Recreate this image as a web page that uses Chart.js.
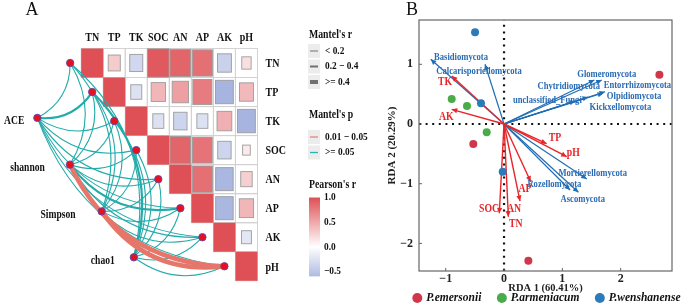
<!DOCTYPE html>
<html><head><meta charset="utf-8">
<script src="https://cdn.jsdelivr.net/npm/chart.js@4.4.1/dist/chart.umd.min.js"></script>
<style>
html,body{margin:0;padding:0;background:#fff;}
body{width:685px;height:307px;position:relative;overflow:hidden;}
canvas{position:absolute;top:0;}
#ca{left:0;} #cb{left:340px;}
</style></head><body>
<canvas id="ca" width="380" height="307"></canvas>
<canvas id="cb" width="345" height="307"></canvas>
<script>
// ================= Panel A data =================
const envVars = ['TN','TP','TK','SOC','AN','AP','AK','pH'];
// Pearson's r (upper triangle, row = variable)
const corrTN  = [1.00, 0.30,-0.35, 0.95, 0.88, 0.82,-0.40, 0.18];
const corrTP  = [null, 1.00,-0.25, 0.42, 0.55, 0.75,-0.65, 0.40];
const corrTK  = [null, null, 1.00,-0.25,-0.37,-0.25, 0.45,-0.65];
const corrSOC = [null, null, null, 1.00, 0.88, 0.80,-0.37, 0.12];
const corrAN  = [null, null, null, null, 1.00, 0.82,-0.63, 0.27];
const corrAP  = [null, null, null, null, null, 1.00,-0.63, 0.42];
const corrAK  = [null, null, null, null, null, null, 1.00,-0.20];
const corrPH  = [null, null, null, null, null, null, null, 1.00];
const pearson = [corrTN, corrTP, corrTK, corrSOC, corrAN, corrAP, corrAK, corrPH];

const diversity = ['ACE','shannon','Simpson','chao1'];
// Mantel's r of each diversity index vs envVars
const mantelR_ACE     = [0.12,0.28,0.10,0.09,0.11,0.14,0.08,0.15];
const mantelR_shannon = [0.10,0.15,0.12,0.10,0.13,0.26,0.10,0.46];
const mantelR_Simpson = [0.09,0.12,0.10,0.11,0.10,0.15,0.12,0.43];
const mantelR_chao1   = [0.14,0.30,0.10,0.12,0.10,0.14,0.10,0.13];
// Mantel's p
const mantelP_ACE     = [0.41,0.12,0.55,0.60,0.47,0.35,0.72,0.28];
const mantelP_shannon = [0.52,0.31,0.44,0.58,0.39,0.09,0.48,0.03];
const mantelP_Simpson = [0.57,0.40,0.51,0.49,0.55,0.27,0.36,0.02];
const mantelP_chao1   = [0.33,0.08,0.62,0.45,0.50,0.30,0.61,0.38];
const mantelR = [mantelR_ACE, mantelR_shannon, mantelR_Simpson, mantelR_chao1];
const mantelP = [mantelP_ACE, mantelP_shannon, mantelP_Simpson, mantelP_chao1];

const mantelRLabels = ['< 0.2', '0.2 \u2212 0.4', '>= 0.4'];
const mantelPLabels = ['0.01 \u2212 0.05', '>= 0.05'];
const pearsonTicks  = [1.0, 0.5, 0.0, -0.5];

// ================= Panel B data =================
const groupNames = ['P.emersonii', 'P.armeniacum', 'P.wenshanense'];
const emersoniiX   = [2.664, -0.527, 0.417];
const emersoniiY   = [0.826, -0.335, -2.290];
const armeniacumX  = [-0.897, -0.635, -0.297];
const armeniacumY  = [0.419, 0.300, -0.140];
const wenshanenseX = [-0.497, -0.395, -0.023];
const wenshanenseY = [1.536, 0.347, -0.800];

const envArrowNames = ['TK','AK','TP','pH','AP','AN','SOC','TN'];
const envArrowX = [-0.897, -0.897, 0.730, 1.075, 0.458, 0.274, -0.081, 0.074];
const envArrowY = [ 0.804,  0.246, -0.330, -0.548, -0.966, -1.290, -1.496, -1.553];

const fungiNames = ['Basidiomycota','Calcarisporiellomycota','Glomeromycota','Chytridiomycota',
  'Entorrhizomycota','Olpidiomycota','unclassified_Fungi','Kickxellomycota',
  'Mortierellomycota','Rozellomycota','Ascomycota'];
const fungiX = [-1.257, -0.326, 1.676, 1.549, 1.732, 1.700, 1.218, 1.440, 1.418, 1.132, 1.275];
const fungiY = [ 1.084,  1.000, 0.737, 0.737, 0.541, 0.519, 0.385, 0.452, -0.921, -1.106, -1.144];

const xTitleB = 'RDA 1 (60.41%)';
const yTitleB = 'RDA 2 (20.29%)';

// ================= layout & style (not data) =================
const SERIF = '"Liberation Serif", "Times New Roman", serif';
const LA = { cellW: 22.62, cellH: 30, gridX: 78.3, gridY: 45, W: 380, H: 307 };
const speciesPos = [[-1.99, 2.39], [-0.51, 4.0], [0.93, 5.61], [2.39, 7.19]];   // cell units
const speciesLabelOff = [[-13, 3.5], [-25, 3], [-26, 4], [-19, 3.5]];          // px
const groupColors = ['#d0374a', '#4aab4a', '#2b7bba'];
const B = { xMin: -1.458, xMax: 2.88, yMin: -2.462, yMax: 1.742 };
const envLabelPos = [[-1.012,0.709],[-0.99,0.122],[0.875,-0.229],[1.189,-0.474],[0.36,-1.089],[0.172,-1.424],[-0.257,-1.424],[0.2,-1.663]];
const fungiLabelPos = [[-0.738,1.117],[-0.429,0.883],[1.761,0.826],[1.109,0.625],[2.287,0.648],[2.23,0.457],[0.743,0.39],[1.995,0.28],[1.52,-0.826],[0.863,-1.01],[1.35,-1.256]];
const RED_ARROW = '#e8262a', BLUE_ARROW = '#1f6db3', BLUE_TEXT = '#2a6cb4';

function txt(ctx, s, x, y, font, color, align, sx) {
  ctx.save();
  ctx.translate(x, y);
  ctx.scale(sx || 1, 1);
  ctx.font = font; ctx.fillStyle = color;
  ctx.textAlign = align || 'left'; ctx.textBaseline = 'middle';
  ctx.fillText(s, 0, 0);
  ctx.restore();
}
function corrColor(r) {
  const t = Math.min(1, Math.abs(r));
  const end = r >= 0 ? [222, 80, 85] : [120, 140, 205];
  const c = end.map(e => Math.round(255 + (e - 255) * t));
  return 'rgb(' + c.join(',') + ')';
}
function curve(ctx, x0, y0, x1, y1, k) {
  const dx = x1 - x0, dy = y1 - y0;
  const cx = (x0 + x1) / 2 - dy * k, cy = (y0 + y1) / 2 + dx * k;
  ctx.beginPath(); ctx.moveTo(x0, y0); ctx.quadraticCurveTo(cx, cy, x1, y1); ctx.stroke();
}

// ================= Panel A chart =================
const panelAPlugin = {
  id: 'panelA',
  beforeDatasetsDraw(chart) {
    const { ctx, scales: { x, y } } = chart;
    const n = envVars.length;
    ctx.save();
    for (let i = 0; i < n; i++) for (let j = i; j < n; j++) {
      const x0 = x.getPixelForValue(j), x1 = x.getPixelForValue(j + 1);
      const y0 = y.getPixelForValue(i), y1 = y.getPixelForValue(i + 1);
      ctx.strokeStyle = '#d2d2d2'; ctx.lineWidth = 1;
      ctx.strokeRect(x0, y0, x1 - x0, y1 - y0);
    }
    for (let i = 0; i < n; i++) for (let j = i; j < n; j++) {
      const r = pearson[i][j];
      const x0 = x.getPixelForValue(j), x1 = x.getPixelForValue(j + 1);
      const y0 = y.getPixelForValue(i), y1 = y.getPixelForValue(i + 1);
      const f = Math.sqrt(Math.abs(r));
      const w = (x1 - x0) * f, h = (y1 - y0) * f;
      const cx = (x0 + x1) / 2, cy = (y0 + y1) / 2;
      ctx.fillStyle = corrColor(r);
      ctx.fillRect(cx - w / 2, cy - h / 2, w, h);
      if (i !== j) {
        ctx.strokeStyle = '#9c9c9c'; ctx.lineWidth = 0.9;
        ctx.strokeRect(cx - w / 2, cy - h / 2, w, h);
      }
    }
    // Mantel links
    const edges = [];
    diversity.forEach((d, s) => envVars.forEach((v, k) => edges.push({ s, k, r: mantelR[s][k], p: mantelP[s][k] })));
    edges.sort((a, b) => ((a.p < 0.05) - (b.p < 0.05)) || (a.r - b.r));
    ctx.lineCap = 'round';
    edges.forEach(e => {
      const x0 = x.getPixelForValue(speciesPos[e.s][0]), y0 = y.getPixelForValue(speciesPos[e.s][1]);
      const x1 = x.getPixelForValue(e.k - 0.5), y1 = y.getPixelForValue(e.k + 0.5);
      ctx.strokeStyle = e.p < 0.05 ? '#e6756a' : '#23abaa';
      ctx.lineWidth = e.r >= 0.4 ? 4.6 : (e.r >= 0.2 ? 2.2 : 1.1);
      curve(ctx, x0, y0, x1, y1, 0.3);
    });
    ctx.restore();
  },
  afterDraw(chart) {
    const { ctx, scales: { x, y } } = chart;
    const bold12 = 'bold 12.5px ' + SERIF;
    txt(ctx, 'A', 32, 10, '18px ' + SERIF, '#111', 'center', 1);
    envVars.forEach((v, j) => {
      txt(ctx, v, x.getPixelForValue(j + 0.5), y.getPixelForValue(0) - 11, bold12, '#111', 'center', 0.8);
      txt(ctx, v, x.getPixelForValue(envVars.length) + 8, y.getPixelForValue(j + 0.5) + 1, bold12, '#111', 'left', 0.8);
    });
    diversity.forEach((d, s) => {
      const px = x.getPixelForValue(speciesPos[s][0]) + speciesLabelOff[s][0];
      const py = y.getPixelForValue(speciesPos[s][1]) + speciesLabelOff[s][1];
      txt(ctx, d, px, py, 'bold 12px ' + SERIF, '#111', 'right', 0.8);
    });
    // legend
    const lx = 310, tx = 325;
    const tf = 'bold 11.5px ' + SERIF, itf = 'bold 11px ' + SERIF;
    txt(ctx, "Mantel's r", lx - 1, 35, tf, '#111', 'left', 0.85);
    const widths = [1, 2, 4];
    mantelRLabels.forEach((l, i) => {
      const yy = 51 + i * 15.5;
      ctx.fillStyle = '#ececec'; ctx.fillRect(lx - 2, yy - 7, 12, 14);
      ctx.strokeStyle = '#707070'; ctx.lineWidth = widths[i];
      ctx.beginPath(); ctx.moveTo(lx, yy); ctx.lineTo(lx + 8, yy); ctx.stroke();
      txt(ctx, l, tx, yy, itf, '#111', 'left', 0.85);
    });
    txt(ctx, "Mantel's p", lx - 1, 115, tf, '#111', 'left', 0.85);
    const pc = ['#e6857b', '#2fb3b0'];
    mantelPLabels.forEach((l, i) => {
      const yy = 137 + i * 15.5;
      ctx.fillStyle = '#ececec'; ctx.fillRect(lx - 2, yy - 7, 12, 14);
      ctx.strokeStyle = pc[i]; ctx.lineWidth = 1.3;
      ctx.beginPath(); ctx.moveTo(lx, yy); ctx.lineTo(lx + 8, yy); ctx.stroke();
      txt(ctx, l, tx, yy, itf, '#111', 'left', 0.85);
    });
    txt(ctx, "Pearson's r", lx - 1, 185, tf, '#111', 'left', 0.85);
    const vTop = 1.0, vBot = -0.6, yTop = 197.5, pxPer = 49.3;
    const yBot = yTop + (vTop - vBot) * pxPer;
    const g = ctx.createLinearGradient(0, yTop, 0, yBot);
    for (let v = vTop; v >= vBot - 1e-9; v -= 0.1) g.addColorStop((vTop - v) / (vTop - vBot), corrColor(v));
    ctx.fillStyle = g; ctx.fillRect(lx - 1, yTop, 11, yBot - yTop);
    pearsonTicks.forEach(v => {
      const yy = yTop + (vTop - v) * pxPer;
      const s = (v < 0 ? '\u2212' : '') + Math.abs(v).toFixed(1);
      txt(ctx, s, tx - 1, yy, itf, '#111', 'left', 0.85);
    });
  }
};

const envNodeData = envVars.map((v, k) => ({ x: k - 0.5, y: k + 0.5 }));
const spNodeData = diversity.map((d, s) => ({ x: speciesPos[s][0], y: speciesPos[s][1] }));
const nodeStyle = { pointRadius: 3.7, pointBackgroundColor: '#e8101e', pointBorderColor: '#5b4bb0', pointBorderWidth: 0.9 };
new Chart(document.getElementById('ca'), {
  type: 'scatter',
  data: { datasets: [
    Object.assign({ label: 'env', data: envNodeData }, nodeStyle),
    Object.assign({ label: 'diversity', data: spNodeData }, nodeStyle)
  ] },
  options: {
    responsive: false, animation: false, events: [],
    layout: { padding: 0 },
    plugins: { legend: { display: false }, tooltip: { enabled: false } },
    scales: {
      x: { type: 'linear', display: false, min: -LA.gridX / LA.cellW, max: (LA.W - LA.gridX) / LA.cellW },
      y: { type: 'linear', display: false, reverse: true, min: -LA.gridY / LA.cellH, max: (LA.H - LA.gridY) / LA.cellH }
    }
  },
  plugins: [panelAPlugin]
});

// ================= Panel B chart =================
function arrowHead(ctx, x0, y0, x1, y1, color) {
  const a = Math.atan2(y1 - y0, x1 - x0);
  ctx.save(); ctx.translate(x1, y1); ctx.rotate(a);
  ctx.beginPath(); ctx.moveTo(0, 0); ctx.lineTo(-5.5, -2.6); ctx.lineTo(-5.5, 2.6); ctx.closePath();
  ctx.fillStyle = color; ctx.fill(); ctx.restore();
}
const panelBPlugin = {
  id: 'panelB',
  afterDatasetsDraw(chart) {
    const { ctx, chartArea: a, scales: { x, y } } = chart;
    chart.data.datasets.forEach((ds, i) => {
      if (!ds.isArrow) return;
      const m = chart.getDatasetMeta(i);
      arrowHead(ctx, m.data[0].x, m.data[0].y, m.data[1].x, m.data[1].y, ds.borderColor);
    });
    envArrowNames.forEach((n, i) => {
      txt(ctx, n, x.getPixelForValue(envLabelPos[i][0]), y.getPixelForValue(envLabelPos[i][1]), 'bold 12.5px ' + SERIF, RED_ARROW, 'center', 0.78);
    });
    fungiNames.forEach((n, i) => {
      txt(ctx, n, x.getPixelForValue(fungiLabelPos[i][0]), y.getPixelForValue(fungiLabelPos[i][1]), 'bold 10px ' + SERIF, BLUE_TEXT, 'center', 0.86);
    });
    ctx.save();
    ctx.strokeStyle = '#666'; ctx.lineWidth = 1.2;
    ctx.strokeRect(a.left, a.top, a.right - a.left, a.bottom - a.top);
    ctx.lineWidth = 1;
    x.ticks.forEach(t => {
      const px = x.getPixelForValue(t.value);
      ctx.beginPath(); ctx.moveTo(px, a.bottom); ctx.lineTo(px, a.bottom - 3); ctx.stroke();
    });
    y.ticks.forEach(t => {
      const py = y.getPixelForValue(t.value);
      ctx.beginPath(); ctx.moveTo(a.left, py); ctx.lineTo(a.left + 3, py); ctx.stroke();
    });
    ctx.restore();
  },
  afterDraw(chart) {
    const { ctx } = chart;
    txt(ctx, 'B', 72, 10, '18px ' + SERIF, '#111', 'center', 1);
    let cx = 77.3;
    const f = 'italic bold 11.5px ' + SERIF;
    ctx.save(); ctx.font = f;
    groupNames.forEach((n, i) => {
      ctx.beginPath(); ctx.arc(cx, 298, 5, 0, Math.PI * 2); ctx.fillStyle = groupColors[i]; ctx.fill();
      txt(ctx, n, cx + 9, 298.5, f, '#111', 'left', 1);
      ctx.font = f;
      cx += 9 + ctx.measureText(n).width + 20.5;
    });
    ctx.restore();
  }
};

const groupXs = [emersoniiX, armeniacumX, wenshanenseX];
const groupYs = [emersoniiY, armeniacumY, wenshanenseY];
const dsB = [];
groupNames.forEach((n, g) => dsB.push({
  label: n, data: groupXs[g].map((v, i) => ({ x: v, y: groupYs[g][i] })),
  pointRadius: 4, pointBackgroundColor: groupColors[g], pointBorderColor: groupColors[g], pointBorderWidth: 0, order: 0
}));
envArrowNames.forEach((n, i) => dsB.push({
  label: n, data: [{ x: 0, y: 0 }, { x: envArrowX[i], y: envArrowY[i] }], showLine: true, isArrow: true,
  borderColor: RED_ARROW, borderWidth: 1.4, pointRadius: 0, order: 1
}));
fungiNames.forEach((n, i) => dsB.push({
  label: n, data: [{ x: 0, y: 0 }, { x: fungiX[i], y: fungiY[i] }], showLine: true, isArrow: true,
  borderColor: BLUE_ARROW, borderWidth: 1.2, pointRadius: 0, order: 2
}));
const dotStyle = { showLine: true, borderColor: '#111', borderWidth: 2.2, borderDash: [2, 4.6], pointRadius: 0, order: 5 };
dsB.push(Object.assign({ label: 'v0', data: [{ x: 0, y: B.yMin }, { x: 0, y: B.yMax }] }, dotStyle));
dsB.push(Object.assign({ label: 'h0', data: [{ x: B.xMin, y: 0 }, { x: B.xMax, y: 0 }] }, dotStyle));

const tickFmt = v => (v < 0 ? '\u2212' : '') + Math.abs(Math.round(v));
new Chart(document.getElementById('cb'), {
  type: 'scatter',
  data: { datasets: dsB },
  options: {
    responsive: false, animation: false, events: [],
    layout: { padding: { top: 20, right: 13, bottom: 0, left: 0 } },
    plugins: { legend: { display: false }, tooltip: { enabled: false } },
    scales: {
      x: {
        type: 'linear', min: B.xMin, max: B.xMax,
        afterFit(s) { s.height = 36; },
        grid: { display: false, drawTicks: false }, border: { display: false },
        ticks: { stepSize: 1, includeBounds: false, padding: 1, color: '#222', font: { family: SERIF, weight: 'bold', size: 12 }, callback: tickFmt },
        title: { display: true, text: xTitleB, color: '#222', font: { family: SERIF, weight: 'bold', size: 10.5 }, padding: { top: 0, bottom: 12 } }
      },
      y: {
        type: 'linear', min: B.yMin, max: B.yMax,
        afterFit(s) { s.width = 79; },
        grid: { display: false, drawTicks: false }, border: { display: false },
        ticks: { stepSize: 1, includeBounds: false, padding: 6, color: '#222', font: { family: SERIF, weight: 'bold', size: 12 }, callback: tickFmt },
        title: { display: true, text: yTitleB, color: '#222', font: { family: SERIF, weight: 'bold', size: 11 }, padding: { top: 46, bottom: 0 } }
      }
    }
  },
  plugins: [panelBPlugin]
});
</script>
</body></html>
